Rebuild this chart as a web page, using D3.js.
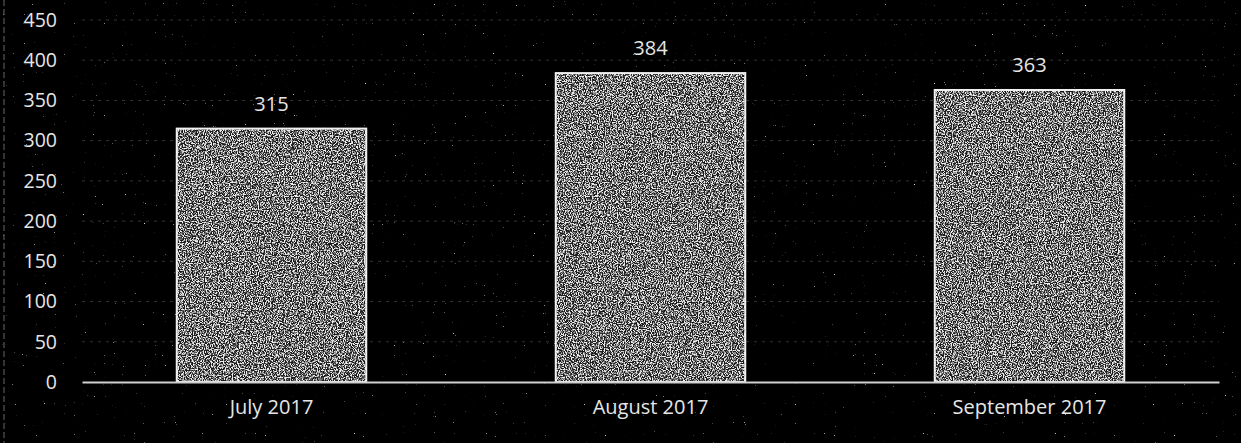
<!DOCTYPE html>
<html>
<head>
<meta charset="utf-8">
<script src="https://cdn.jsdelivr.net/npm/d3@7"></script>
<style>
  html, body { margin: 0; padding: 0; background: #000; }
  svg { display: block; }
  .tick text { font-family: "Open Sans", sans-serif; }
</style>
</head>
<body>
<div id="chart"></div>
<script>
// chart data
const months = ["July 2017", "August 2017", "September 2017"];
const counts = [315, 384, 363];
const yTicks = [0, 50, 100, 150, 200, 250, 300, 350, 400, 450];

const W = 1241, H = 443;
const margin = { top: 20, right: 22, bottom: 61, left: 82 };
const width = W - margin.left - margin.right;
const height = H - margin.top - margin.bottom;

const svg = d3.select("#chart").append("svg")
    .attr("width", W)
    .attr("height", H);

// noise filters to mimic the scanned texture
const defs = svg.append("defs");

const bgNoise = defs.append("filter").attr("id", "bgNoise")
    .attr("x", 0).attr("y", 0).attr("width", "100%").attr("height", "100%");
bgNoise.append("feTurbulence")
    .attr("type", "fractalNoise").attr("baseFrequency", 0.9)
    .attr("numOctaves", 1).attr("seed", 7).attr("result", "n");
bgNoise.append("feColorMatrix").attr("in", "n").attr("type", "matrix")
    .attr("values", "0 0 0 0 0.7  0 0 0 0 0.7  0 0 0 0 0.7  10 0 0 0 -7.4");

const barNoise = defs.append("filter").attr("id", "barNoise")
    .attr("x", 0).attr("y", 0).attr("width", "100%").attr("height", "100%");
barNoise.append("feTurbulence")
    .attr("type", "fractalNoise").attr("baseFrequency", 0.85)
    .attr("numOctaves", 2).attr("seed", 3).attr("result", "n");
barNoise.append("feColorMatrix").attr("in", "n").attr("type", "matrix")
    .attr("values", "0 0 0 0 0.85  0 0 0 0 0.85  0 0 0 0 0.85  5 0 0 0 -2.1")
    .attr("result", "specks");
barNoise.append("feComposite").attr("in", "specks").attr("in2", "SourceGraphic")
    .attr("operator", "in");

svg.append("rect")
    .attr("width", W).attr("height", H)
    .attr("fill", "#000");

svg.append("rect")
    .attr("width", W).attr("height", H)
    .attr("fill", "#fff")
    .attr("filter", "url(#bgNoise)");

// faint left border
svg.append("line")
    .attr("x1", 4).attr("x2", 4).attr("y1", 0).attr("y2", H)
    .attr("stroke", "#666").attr("stroke-width", 1)
    .attr("stroke-dasharray", "6,3");

const g = svg.append("g")
    .attr("transform", `translate(${margin.left},${margin.top})`);

const x = d3.scaleBand()
    .domain(months)
    .range([0, width])
    .paddingInner(0.5)
    .paddingOuter(0.25);

const y = d3.scaleLinear()
    .domain([0, 450])
    .range([height, 0]);

// gridlines
g.append("g")
    .selectAll("line")
    .data(yTicks.filter(d => d > 0))
    .join("line")
    .attr("x1", 0).attr("x2", width)
    .attr("y1", d => y(d)).attr("y2", d => y(d))
    .attr("stroke", "#333")
    .attr("stroke-width", 1)
    .attr("stroke-dasharray", "3,5");

// y axis
const yAxis = g.append("g")
    .call(d3.axisLeft(y).tickValues(yTicks).tickSize(0).tickPadding(25));
yAxis.select(".domain").remove();
yAxis.selectAll("text")
    .attr("fill", "#e6e6e6")
    .style("font-size", "19.5px");

// bars
const bars = g.append("g").selectAll("g")
    .data(months)
    .join("g");

bars.append("rect")
    .attr("x", d => x(d))
    .attr("y", (d, i) => y(counts[i]))
    .attr("width", x.bandwidth())
    .attr("height", (d, i) => height - y(counts[i]))
    .attr("fill", "#1a1a1a");

bars.append("rect")
    .attr("x", d => x(d))
    .attr("y", (d, i) => y(counts[i]))
    .attr("width", x.bandwidth())
    .attr("height", (d, i) => height - y(counts[i]))
    .attr("fill", "#fff")
    .attr("filter", "url(#barNoise)");

bars.append("rect")
    .attr("x", d => x(d))
    .attr("y", (d, i) => y(counts[i]))
    .attr("width", x.bandwidth())
    .attr("height", (d, i) => height - y(counts[i]))
    .attr("fill", "none")
    .attr("stroke", "#f0f0f0")
    .attr("stroke-width", 2);

// value labels
bars.append("text")
    .attr("x", d => x(d) + x.bandwidth() / 2)
    .attr("y", (d, i) => y(counts[i]) - 18)
    .attr("text-anchor", "middle")
    .attr("fill", "#e6e6e6")
    .style("font-family", "'Open Sans', sans-serif")
    .style("font-size", "20px")
    .text((d, i) => counts[i]);

// x axis
const xAxis = g.append("g")
    .attr("transform", `translate(0,${height})`)
    .call(d3.axisBottom(x).tickSize(0).tickPadding(18));
xAxis.select(".domain")
    .attr("stroke", "#d0d0d0")
    .attr("stroke-width", 2);
xAxis.selectAll("text")
    .attr("fill", "#e6e6e6")
    .style("font-size", "20px");
</script>
</body>
</html>
